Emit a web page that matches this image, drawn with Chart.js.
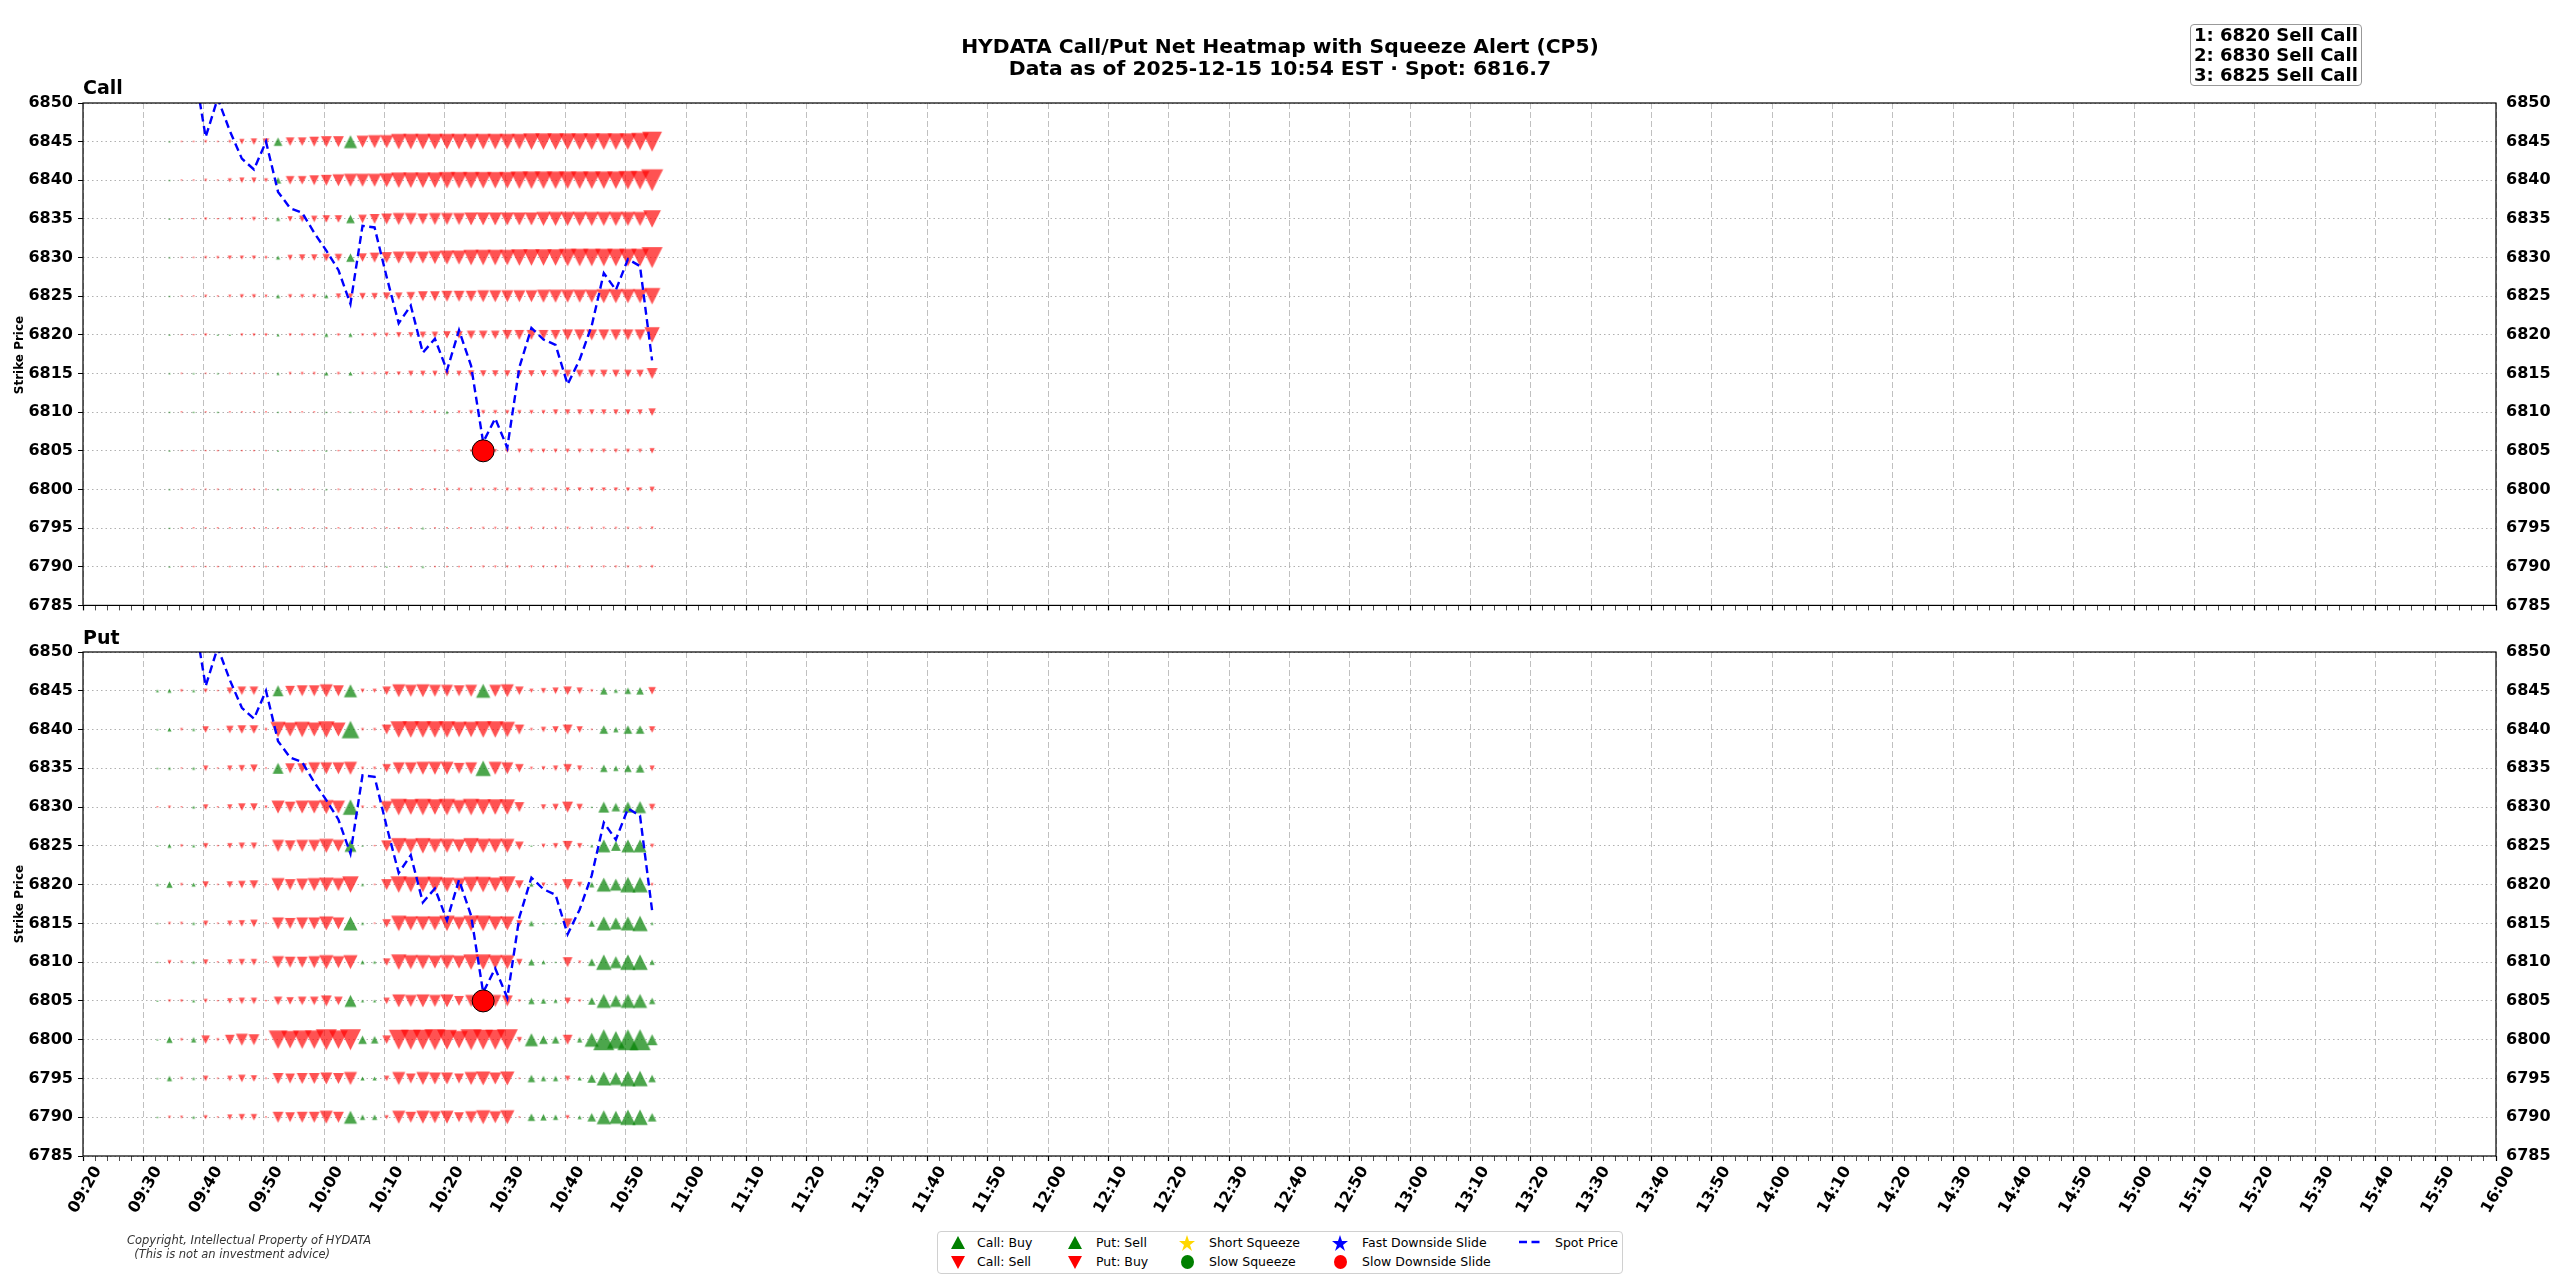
<!DOCTYPE html>
<html>
<head>
<meta charset="utf-8">
<title>HYDATA Call/Put Net Heatmap</title>
<script src="https://cdn.jsdelivr.net/npm/chart.js@4.4.1/dist/chart.umd.min.js"></script>
<style>
    body { margin: 0; background: #fff; }
    #page { position: relative; width: 2560px; height: 1280px; overflow: hidden; font-family: 'DejaVu Sans', sans-serif; color: #000; }
    canvas { position: absolute; left: 0; }
    .abs { position: absolute; white-space: pre; }
    #title { left: 0; top: 35px; width: 2560px; text-align: center; font-size: 20.3px; font-weight: bold; line-height: 22px; }
    .panel-title { left: 83px; font-size: 19px; font-weight: bold; line-height: 22px; }
    .ylab { font-size: 12px; font-weight: bold; transform: translate(-50%, -50%) rotate(-90deg); }
    #topbox { left: 2190px; top: 24px; border: 1.5px solid #999; border-radius: 4px; padding: 0 3px; font-size: 18px; font-weight: bold; line-height: 20px; background: #fff; }
    #copyright { left: 127px; top: 1234px; font-size: 11.5px; font-style: italic; line-height: 13.5px; color: #333; }
    #legend { left: 937px; top: 1231px; width: 684px; height: 41px; border: 1px solid #d0d0d0; border-radius: 4px; background: #fff; }
    .lg { font-size: 12.5px; line-height: 14px; }
    .ico { position: absolute; }
</style>
</head>
<body>
<div id="page">
    <canvas id="call_chart" width="2560" height="620" style="top:0"></canvas>
    <canvas id="put_chart" width="2560" height="660" style="top:620px"></canvas>

    <div id="title" class="abs">HYDATA Call/Put Net Heatmap with Squeeze Alert (CP5)
Data as of 2025-12-15 10:54 EST · Spot: 6816.7</div>
    <div id="topbox" class="abs"></div>
    <div class="abs panel-title" style="top:76px">Call</div>
    <div class="abs panel-title" style="top:626px">Put</div>
    <div class="abs ylab" style="left:19px; top:354.5px">Strike Price</div>
    <div class="abs ylab" style="left:19px; top:904px">Strike Price</div>

    <div id="copyright" class="abs">Copyright, Intellectual Property of HYDATA
  (This is not an investment advice)</div>

    <div id="legend" class="abs"></div>
    <svg class="ico" style="left:950px; top:1236px" width="16" height="14"><polygon points="8,0 15,13 1,13" fill="#008000"/></svg>
    <svg class="ico" style="left:950px; top:1255px" width="16" height="14"><polygon points="1,1 15,1 8,14" fill="#ff0000"/></svg>
    <svg class="ico" style="left:1067px; top:1236px" width="16" height="14"><polygon points="8,0 15,13 1,13" fill="#008000"/></svg>
    <svg class="ico" style="left:1067px; top:1255px" width="16" height="14"><polygon points="1,1 15,1 8,14" fill="#ff0000"/></svg>
    <svg class="ico" style="left:1179px; top:1235px" width="16" height="16"><polygon points="8,0 10,6 16,6 11,10 13,16 8,12 3,16 5,10 0,6 6,6" fill="#ffd700"/></svg>
    <svg class="ico" style="left:1180px; top:1254px" width="15" height="16"><ellipse cx="7.5" cy="8" rx="6.5" ry="7" fill="#008000"/></svg>
    <svg class="ico" style="left:1332px; top:1235px" width="16" height="16"><polygon points="8,0 10,6 16,6 11,10 13,16 8,12 3,16 5,10 0,6 6,6" fill="#0000ff"/></svg>
    <svg class="ico" style="left:1333px; top:1254px" width="15" height="16"><ellipse cx="7.5" cy="8" rx="6.5" ry="7" fill="#ff0000"/></svg>
    <svg class="ico" style="left:1518px; top:1238px" width="26" height="8"><line x1="1" y1="4" x2="25" y2="4" stroke="#0000ff" stroke-width="2.4" stroke-dasharray="8,4.5"/></svg>
    <div class="abs lg" style="left:977px; top:1236px">Call: Buy</div>
    <div class="abs lg" style="left:977px; top:1255px">Call: Sell</div>
    <div class="abs lg" style="left:1096px; top:1236px">Put: Sell</div>
    <div class="abs lg" style="left:1096px; top:1255px">Put: Buy</div>
    <div class="abs lg" style="left:1209px; top:1236px">Short Squeeze</div>
    <div class="abs lg" style="left:1209px; top:1255px">Slow Squeeze</div>
    <div class="abs lg" style="left:1362px; top:1236px">Fast Downside Slide</div>
    <div class="abs lg" style="left:1362px; top:1255px">Slow Downside Slide</div>
    <div class="abs lg" style="left:1555px; top:1236px">Spot Price</div>
</div>

<script>
// strikes shown on both panels (top row first)
const strikes = [6845, 6840, 6835, 6830, 6825, 6820, 6815, 6810, 6805, 6800, 6795, 6790];

// sample times (every 2 min)
const sampleTimes = [
    '09:32:20', '09:34:20', '09:36:20', '09:38:20', '09:40:20', '09:42:20', '09:44:20',
    '09:46:20', '09:48:20', '09:50:20', '09:52:20', '09:54:20', '09:56:20', '09:58:20',
    '10:00:20', '10:02:20', '10:04:20', '10:06:20', '10:08:20', '10:10:20', '10:12:20',
    '10:14:20', '10:16:20', '10:18:20', '10:20:20', '10:22:20', '10:24:20', '10:26:20',
    '10:28:20', '10:30:20', '10:32:20', '10:34:20', '10:36:20', '10:38:20', '10:40:20',
    '10:42:20', '10:44:20', '10:46:20', '10:48:20', '10:50:20', '10:52:20', '10:54:20'
];

// net call flow per strike row (+ buy, - sell)
const callNet = [
    [0, 1, -1, -1, -2, -1, -2, -4, -5, -5, 7, -7, -7, -8, -9, -9, 11, -10, -11, -11, -13, -13, -13, -13, -13, -13, -13, -13, -13, -13, -13, -14, -14, -14, -14, -14, -14, -14, -14, -14, -15, -17],
    [0, 1, -1, -1, -2, -1, -3, -4, -4, -3, 5, -7, -7, -8, -9, -10, -11, -11, -11, -12, -13, -13, -13, -13, -14, -14, -14, -14, -14, -14, -15, -15, -15, -15, -15, -15, -15, -15, -15, -16, -16, -19],
    [0, 1, -1, -1, -2, -1, -2, -2, -3, -2, 3, -4, -5, -5, -6, -6, 7, -7, -8, -9, -10, -10, -9, -10, -10, -10, -11, -11, -11, -11, -11, -11, -12, -12, -12, -12, -12, -12, -12, -12, -12, -15],
    [0, 1, -1, -1, -2, -2, -3, -3, -3, -2, 3, -4, -5, -5, -6, -6, 7, -7, -8, -9, -10, -10, -10, -11, -12, -12, -13, -13, -13, -13, -14, -14, -14, -14, -15, -15, -15, -15, -15, -15, -15, -18],
    [0, 1, -1, -1, -2, -1, -2, -3, -3, -2, 3, -3, -3, -3, 3, -4, -4, -5, -5, -6, -6, -7, -8, -8, -9, -9, -9, -10, -10, -10, -10, -10, -11, -11, -11, -11, -11, -12, -12, -12, -12, -14],
    [0, 1, -1, -1, -2, 1, 1, -2, -2, -2, 2, -2, -2, -2, 3, -2, 3, -2, -3, -3, -4, -4, -5, -5, -6, -6, -7, -7, -7, -8, -8, -8, -8, -8, -9, -9, -9, -9, -9, -9, -9, -13],
    [0, 1, -1, 1, -1, 1, -1, -1, -1, -1, 2, -2, -2, -2, 3, -2, 3, -2, -2, -3, -3, -4, -4, -4, -4, -4, -5, -5, -5, -5, -5, -5, -5, -6, -6, -6, -6, -6, -6, -6, -6, -9],
    [0, 1, -1, 1, -1, 1, -1, -1, -1, -1, 1, -1, -1, -1, 1, -1, 1, -1, -1, -1.5, -1.5, -2, -2, -2, 2, -2, -3, -3, -3, -3, -3, -3, -3, -4, -4, -4, -4, -4, -4, -4, -4, -6],
    [0, 1, -1, -1, -1, -1, -1, -1, -1, -1, 1, -1, -1, -1, 1, -1, -1, -1, -1, -1, -1, -1, -1, -1.5, -1.5, -1.5, -2, -2, -2.5, -3, -3, -3, -3, -3, -3, -3, -3, -3, -3, -3, -3, -4],
    [0, 1, -1, -1, -1, -1, -1, -1, -1, -1, 1, -1, -1, -1, 1, -1, -1, -1, -1, -1, -1, -1.5, -1.5, -1.5, -2, -2, -2, -2, -2.5, -2.5, -2.5, -2.5, -2.5, -2.5, -3, -3, -3, -3, -3, -3, -3, -4],
    [0, 1, -1, -1, -1, -1, -1, -1, -1, -1, -1, -1, -1, -1, -1, -1, -1, -1, -1, -1, -1, -1, 1.5, -1, -1, -1, -1, -1.5, -1.5, -1.5, -1.5, -1.5, -1.5, -1.5, -1.5, -1.5, -1.5, -1.5, -1.5, -1.5, -1.5, -2],
    [0, 1, -1, -1, -1, -1, -1, -1, -1, -1, -1, -1, -1, -1, -1, -1, -1, -1, -1, 1, -1, -1, 1.5, -1, -1, -1, -1, -1.5, -1.5, -1.5, -1.5, -1.5, -1.5, -1.5, -1.5, -1.5, -1.5, -1.5, -1.5, -1.5, -1.5, -2]
];

// net put flow per strike row (+ sell, - buy)
const putNet = [
    [2, 3, -2, 2, -3, -1, -5, -7, -7, -1, 9, -8, -9, -9, -11, -9, 11, -3, -3, -7, -11, -10, -11, -10, -10, -9, -10, 12, -10, -11, -7, -3, -4, -5, -7, -5, -2, 6, 3, 5, 6, -6],
    [1, 3, -2, 2, -5, -1, -6, -7, -7, -2, -13, -12, -13, -12, -14, -12, 15, -2, -2, -8, -14, -14, -14, -14, -14, -13, -13, -14, -14, -13, -8, -2, -4, -5, -8, -5, -1, 7, 4, 7, 7, -5],
    [1, 2, -1, 2, -4, -1, -4, -5, -6, -1, 9, -8, -8, -10, -10, -10, -11, -2, -2, -7, -10, -10, -11, -11, -11, -9, -10, 13, -11, -10, -7, -2, -3, -4, -7, -4, -1, 6, 4, 6, 7, -4],
    [-1, -2, -1, 2, -4, -1, -4, -6, -6, -2, -11, -9, -11, -11, -12, -11, 13, -2, -2, -10, -14, -13, -14, -13, -14, -12, -14, -13, -13, -13, -8, 0, -4, -5, -9, -5, 1, 9, 7, 9, 10, -5],
    [1, 3, -2, 2, -4, -1, -4, -5, -5, -1, -10, -9, -10, -10, -12, -10, 10, 1, -1, -9, -13, -12, -13, -12, -12, -11, -13, -12, -12, -12, -7, 1, -3, -4, -8, -4, 2, 11, 8, 11, 11, -3],
    [2, 5, -2, 3, -5, -1, -5, -6, -7, -1, -11, -9, -10, -11, -12, -11, -14, 2, -1, -9, -14, -13, -13, -13, -12, -11, -13, -13, -12, -14, -7, 3, -3, -2, -9, -4, 4, 12, 10, 13, 13, -2],
    [1, -2, -2, 2, -4, -1, -4, -5, -6, -1, -10, -9, -10, -10, -12, -10, 12, 2, -1, -7, -13, -12, -12, -12, -13, -11, -13, -13, -12, -12, -5, 4, 1, 1, -8, -1, 5, 12, 10, 12, 13, 2],
    [1, -3, -2, 2, -4, -1, -4, -5, -5, -1, -10, -9, -9, -10, -12, -10, -12, 3, 2, -6, -13, -12, -12, -11, -12, -11, -13, -13, -12, -12, -5, 5, 3, 1, -8, -2, 6, 13, 10, 13, 13, 4],
    [1, -2, -2, 2, -3, -1, -4, -5, -5, -1, -7, -6, -7, -7, -9, -7, 10, 2, 2, -5, -11, -10, -11, -10, -11, -8, -10, -10, -10, -9, -2, 5, 4, 3, -5, -2, 6, 12, 10, 12, 12, 5],
    [1, 5, -2, 4, -7, -2, -8, -10, -9, -1, -16, -15, -16, -16, -18, -16, -18, 7, 6, -7, -17, -17, -17, -18, -17, -15, -18, -17, -17, -18, -4, 11, 7, 6, -8, 4, 12, 18, 15, 18, 18, 9],
    [1, 4, -2, 2, -4, -1, -4, -6, -5, -1, -9, -8, -9, -9, -10, -9, -11, 3, 3, -4, -11, -8, -11, -10, -10, -8, -11, -12, -10, -12, -1, 6, 4, 4, -4, 3, 7, 12, 11, 13, 13, 6],
    [1, -2, -2, 2, -3, -1, -4, -5, -5, -1, -9, -8, -9, -9, -11, -9, 11, 4, 4, -3, -11, -9, -11, -10, -11, -8, -10, -12, -10, -12, -1, 6, 5, 4, -3, 3, 7, 12, 11, 13, 13, 7]
];

// spot price at each sample time (first ones are off the top of the chart)
const spotPrice = [
    null, null, null, 6855, 6845.6, 6850.6, 6846.4, 6842.8, 6841.4, 6845.0, 6838.5, 6836.4, 6835.8, 6833.2,
    6830.9, 6828.4, 6824.0, 6834.1, 6833.9, 6827.5, 6821.5, 6823.8, 6817.7, 6819.5, 6815.4, 6820.6, 6816.0,
    6806.1, 6809.2, 6805.4, 6815.8, 6820.9, 6819.4, 6818.7, 6813.6, 6816.8, 6821.2, 6828.0, 6825.8, 6829.8,
    6828.9, 6816.7
];

// slow downside slide alerts
const alertTimes = ['10:26:20'];
const alertStrikes = [6805];

const topFlows = ['1: 6820 Sell Call', '2: 6830 Sell Call', '3: 6825 Sell Call'];

const axisStart = '09:20';
const axisEnd = '16:00';
const strikeMin = 6785;
const strikeMax = 6850;

document.getElementById('topbox').textContent = topFlows.join('\n');

function toMinutes(t) {
    const p = t.split(':').map(Number);
    return p[0] * 60 + p[1] + (p[2] || 0) / 60;
}

function formatTime(v) {
    const m = Math.round(v);
    return String(Math.floor(m / 60)).padStart(2, '0') + ':' + String(m % 60).padStart(2, '0');
}

function flowPoints(net, wantUp) {
    const pts = [];
    strikes.forEach(function(strike, r) {
        net[r].forEach(function(v, i) {
            if (v === 0 || (v > 0) !== wantUp) return;
            pts.push({ x: toMinutes(sampleTimes[i]), y: strike, v: v });
        });
    });
    return pts;
}

// matplotlib style triangle markers (as tall as they are wide)
const triCache = {};
function markerWidth(v) {
    return Math.abs(v) * 1.12 + 0.8;
}
function triangleImage(v) {
    if (triCache[v]) return triCache[v];
    const w = markerWidth(v);
    const size = Math.ceil(w) + 2;
    const m = (size - w) / 2;
    const c = document.createElement('canvas');
    c.width = size;
    c.height = size;
    const g = c.getContext('2d');
    g.fillStyle = v > 0 ? 'rgba(0, 128, 0, 0.7)' : 'rgba(255, 0, 0, 0.68)';
    g.beginPath();
    if (v > 0) {
        g.moveTo(size / 2, m);
        g.lineTo(size - m, size - m);
        g.lineTo(m, size - m);
    } else {
        g.moveTo(m, m);
        g.lineTo(size - m, m);
        g.lineTo(size / 2, size - m);
    }
    g.closePath();
    g.fill();
    triCache[v] = c;
    return c;
}

const spotPoints = [];
spotPrice.forEach(function(p, i) {
    if (p !== null) spotPoints.push({ x: toMinutes(sampleTimes[i]), y: p });
});
const alertPoints = alertTimes.map(function(t, i) {
    return { x: toMinutes(t), y: alertStrikes[i] };
});

// black box around the plot area
const framePlugin = {
    id: 'frame',
    afterDatasetsDraw(chart) {
        const { ctx, chartArea: a } = chart;
        ctx.save();
        ctx.strokeStyle = '#000';
        ctx.lineWidth = 1.2;
        ctx.strokeRect(a.left, a.top, a.right - a.left, a.bottom - a.top);
        ctx.restore();
    }
};

const tickFont = { family: 'DejaVu Sans', size: 16, weight: 'bold' };

function isMajor(v) {
    return Math.round(v) % 10 === 0;
}

function flowDataset(label, net, wantUp, order) {
    return {
        label: label,
        data: flowPoints(net, wantUp),
        pointStyle: function(c) { return c.raw ? triangleImage(c.raw.v) : 'circle'; },
        pointRadius: function(c) { return c.raw ? markerWidth(c.raw.v) / 2 : 0; },
        borderWidth: 0,
        order: order
    };
}

function renderPanel(canvasId, net, showTimeLabels, padTop, xHeight) {
    const ctx = document.getElementById(canvasId).getContext('2d');
    new Chart(ctx, {
        type: 'scatter',
        data: {
            datasets: [{
                label: 'Slow Downside Slide',
                data: alertPoints,
                pointStyle: 'circle',
                pointRadius: 11,
                backgroundColor: '#ff0000',
                borderColor: '#000',
                borderWidth: 1,
                order: 0
            }, {
                type: 'line',
                label: 'Spot Price',
                data: spotPoints,
                borderColor: '#0000ff',
                borderWidth: 2.4,
                borderDash: [8, 4.5],
                pointRadius: 0,
                fill: false,
                tension: 0,
                order: 1
            },
            flowDataset('Buy', net, true, 2),
            flowDataset('Sell', net, false, 3)]
        },
        options: {
            responsive: false,
            animation: false,
            devicePixelRatio: 1,
            events: [],
            layout: { padding: { top: padTop, left: 0, right: 0, bottom: 0 } },
            plugins: {
                legend: { display: false },
                tooltip: { enabled: false }
            },
            scales: {
                x: {
                    type: 'linear',
                    min: toMinutes(axisStart),
                    max: toMinutes(axisEnd),
                    afterFit: function(s) { s.height = xHeight; },
                    ticks: {
                        display: showTimeLabels,
                        stepSize: 2,
                        maxTicksLimit: 1000,
                        autoSkip: false,
                        minRotation: 60,
                        maxRotation: 60,
                        labelOffset: 15,
                        padding: 2,
                        color: '#000',
                        font: tickFont,
                        callback: function(v) { return isMajor(v) ? formatTime(v) : ''; }
                    },
                    grid: {
                        color: function(c) { return c.tick && isMajor(c.tick.value) ? '#c0c0c0' : 'rgba(0,0,0,0)'; },
                        lineWidth: 1,
                        drawTicks: true,
                        tickLength: 5,
                        tickColor: '#000',
                        tickWidth: function(c) { return c.tick && isMajor(c.tick.value) ? 1.2 : 0.7; }
                    },
                    border: { display: false, dash: [6, 3] }
                },
                y: {
                    type: 'linear',
                    position: 'left',
                    min: strikeMin,
                    max: strikeMax,
                    afterFit: function(s) { s.width = 83; },
                    ticks: {
                        stepSize: 5,
                        padding: 5,
                        color: '#000',
                        font: tickFont,
                        callback: function(v) { return String(v); }
                    },
                    grid: {
                        color: '#b0b0b0',
                        lineWidth: 1,
                        drawTicks: true,
                        tickLength: 5,
                        tickColor: '#000'
                    },
                    border: { display: false, dash: [1.5, 3] }
                },
                y2: {
                    type: 'linear',
                    position: 'right',
                    min: strikeMin,
                    max: strikeMax,
                    afterFit: function(s) { s.width = 64; },
                    ticks: {
                        stepSize: 5,
                        padding: 5,
                        color: '#000',
                        font: tickFont,
                        callback: function(v) { return String(v); }
                    },
                    grid: { display: false, drawOnChartArea: false, tickLength: 5 },
                    border: { display: false }
                }
            }
        },
        plugins: [framePlugin]
    });
}

renderPanel('call_chart', callNet, false, 103, 13.5);
renderPanel('put_chart', putNet, true, 32, 124);
</script>
</body>
</html>
